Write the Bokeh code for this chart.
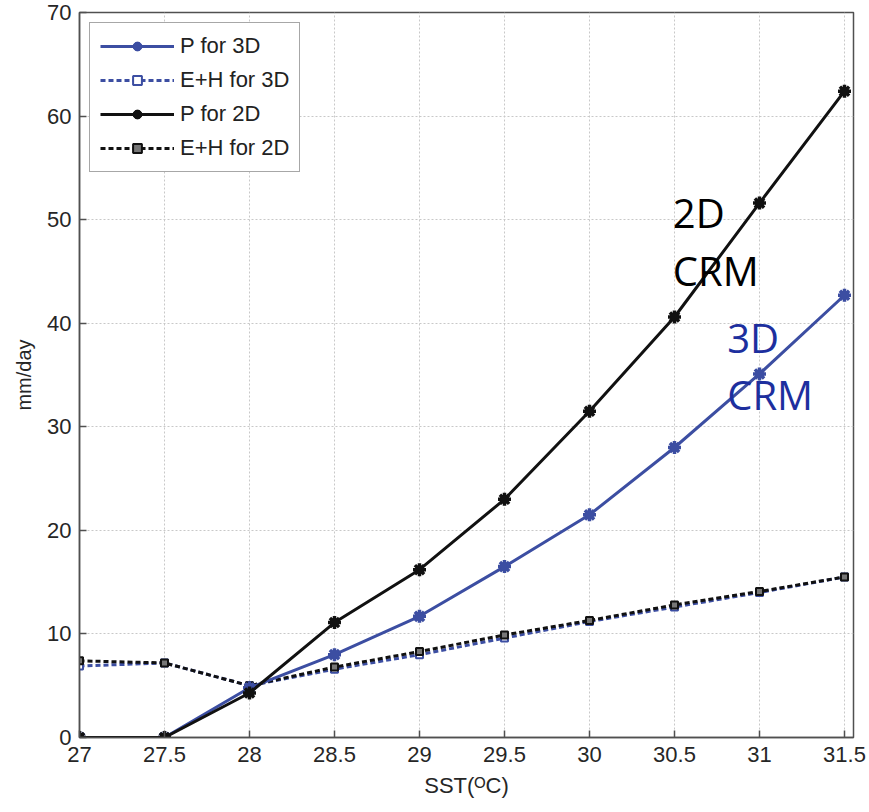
from bokeh.plotting import figure
from bokeh.models import (Range1d, FixedTicker, Legend, LegendItem, ColumnDataSource)
from bokeh.core.properties import value
from bokeh.embed import file_html
from bokeh.resources import INLINE

# ---- data ----
sst = [27, 27.5, 28, 28.5, 29, 29.5, 30, 30.5, 31, 31.5]
p_3d = [0.0, 0.0, 4.8, 8.0, 11.7, 16.5, 21.5, 28.0, 35.1, 42.7]
eh_3d = [6.9, 7.2, 5.0, 6.6, 8.0, 9.6, 11.2, 12.6, 14.0, 15.5]
p_2d = [0.0, 0.0, 4.3, 11.1, 16.2, 23.0, 31.5, 40.6, 51.6, 62.4]
eh_2d = [7.4, 7.2, 5.0, 6.8, 8.3, 9.9, 11.3, 12.8, 14.1, 15.5]

x_ticks = [27, 27.5, 28, 28.5, 29, 29.5, 30, 30.5, 31, 31.5]
x_tick_labels = ["27", "27.5", "28", "28.5", "29", "29.5", "30", "30.5", "31", "31.5"]
y_ticks = [0, 10, 20, 30, 40, 50, 60, 70]

BLUE = "#3c4ea2"
TEXT_BLUE = "#1d2f9e"
FONT = "Liberation Sans"

p = figure(width=869, height=812, output_backend="svg", toolbar_location=None,
           x_range=Range1d(27, 31.553), y_range=Range1d(0, 70),
           min_border_left=79, min_border_right=16, min_border_top=12,
           min_border_bottom=75)

p.outline_line_color = "#505050"
p.outline_line_width = 1.5
p.background_fill_color = "white"

# grid
for g in (p.xgrid, p.ygrid):
    g.grid_line_color = "#c8c8c8"
    g.grid_line_dash = "2 2"
    g.grid_line_width = 1
p.xgrid.ticker = FixedTicker(ticks=x_ticks)
p.ygrid.ticker = FixedTicker(ticks=y_ticks)

# axes
xa = p.xaxis[0]
ya = p.yaxis[0]
xa.ticker = FixedTicker(ticks=x_ticks)
xa.major_label_overrides = {t: l for t, l in zip(x_ticks, x_tick_labels)}
ya.ticker = FixedTicker(ticks=y_ticks)
for ax in (xa, ya):
    ax.major_tick_in = 7
    ax.major_tick_out = 0
    ax.minor_tick_line_color = None
    ax.axis_line_color = "#505050"
    ax.axis_line_width = 1.5
    ax.major_tick_line_color = "#505050"
    ax.major_tick_line_width = 1.5
    ax.major_label_text_font = FONT
    ax.major_label_text_font_size = "22px"
    ax.major_label_text_color = "#262626"
    ax.axis_label_text_font = FONT
    ax.axis_label_text_font_style = "normal"
    ax.axis_label_text_color = "#262626"
xa.major_label_standoff = 9
ya.major_label_standoff = 8
xa.axis_label = "SST(ᴼC)"
xa.axis_label_text_font_size = "22px"
xa.axis_label_standoff = 8
ya.axis_label = "mm/day"
ya.axis_label_text_font_size = "20px"
ya.axis_label_standoff = 9

src = ColumnDataSource(dict(x=sst, p3=p_3d, e3=eh_3d, p2=p_2d, e2=eh_2d))

# E+H 3D
l_e3 = p.line("x", "e3", source=src, line_color=BLUE, line_width=3, line_dash="5 3")
m_e3 = p.scatter("x", "e3", source=src, marker="square", size=7, line_color=BLUE,
                 line_width=2, fill_color="white")
# E+H 2D
l_e2 = p.line("x", "e2", source=src, line_color="#111111", line_width=3, line_dash="5 3")
m_e2 = p.scatter("x", "e2", source=src, marker="square", size=7, line_color="#111111",
                 line_width=2, fill_color="#777777")
# P 3D
l_p3 = p.line("x", "p3", source=src, line_color=BLUE, line_width=3)
m_p3 = p.scatter("x", "p3", source=src, marker="asterisk", size=13, line_color=BLUE,
                 line_width=3.5)
m_p3c = p.scatter("x", "p3", source=src, marker="circle", size=8, line_color=BLUE,
                  fill_color=BLUE)
# P 2D
l_p2 = p.line("x", "p2", source=src, line_color="#111111", line_width=3)
m_p2 = p.scatter("x", "p2", source=src, marker="asterisk", size=13, line_color="#111111",
                 line_width=3.5)
m_p2c = p.scatter("x", "p2", source=src, marker="circle", size=8, line_color="#111111",
                  fill_color="#111111")

legend = Legend(items=[
    LegendItem(label="P for 3D", renderers=[l_p3, m_p3, m_p3c]),
    LegendItem(label="E+H for 3D", renderers=[l_e3, m_e3]),
    LegendItem(label="P for 2D", renderers=[l_p2, m_p2, m_p2c]),
    LegendItem(label="E+H for 2D", renderers=[l_e2, m_e2]),
], location="top_left")
legend.margin = 10
legend.padding = 10
legend.spacing = 8
legend.glyph_width = 74
legend.glyph_height = 22
legend.label_height = 22
legend.label_standoff = 6
legend.label_text_font = FONT
legend.label_text_font_size = "22px"
legend.label_text_color = "#222222"
legend.border_line_color = "#505050"
legend.border_line_width = 1.5
legend.background_fill_color = "white"
legend.background_fill_alpha = 1
p.add_layout(legend)

# annotations (two lines each)
ann_2d = ColumnDataSource(dict(x=[30.49, 30.49], y=[50.7, 45.1], t=["2D", "CRM"]))
ann_3d = ColumnDataSource(dict(x=[30.81, 30.81], y=[38.6, 33.1], t=["3D", "CRM"]))
p.text("x", "y", text="t", source=ann_2d, text_font=value("Open Sans"),
       text_font_size="40px", text_color="black", text_baseline="alphabetic",
       text_align="left")
p.text("x", "y", text="t", source=ann_3d, text_font=value("Open Sans"),
       text_font_size="40px", text_color=TEXT_BLUE, text_baseline="alphabetic",
       text_align="left")

open("out.html", "w").write(file_html(p, INLINE))
